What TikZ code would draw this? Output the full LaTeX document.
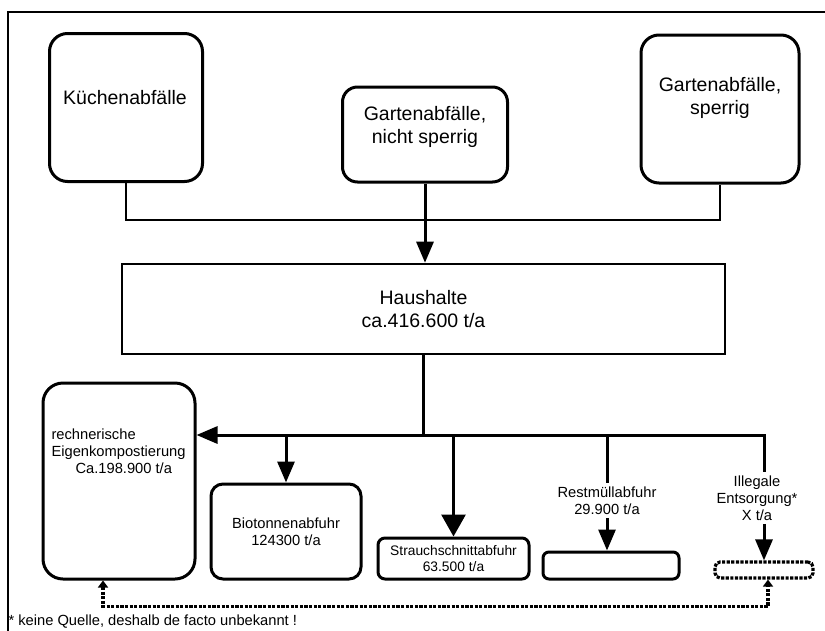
\documentclass[tikz,border=0pt]{standalone}
\usepackage{fontspec}
\setmainfont{Liberation Sans}
\usetikzlibrary{arrows.meta}

\begin{document}
\begin{tikzpicture}[x=1pt, y=-1pt,
    box/.style={draw, line width=3pt, rounded corners=#1, inner sep=0pt},
    flatbox/.style={draw, line width=2.6pt, inner sep=0pt},
    dotbox/.style={line width=3.2pt, dash pattern=on 3.2pt off 1.4pt},
    bigtext/.style={font=\fontsize{19.5}{23}\selectfont, align=center},
    smalltext/.style={font=\fontsize{14.7}{17}\selectfont, align=center},
    link/.style={line width=2pt},
    flow/.style={line width=3pt, -{Triangle[length=21pt,width=17pt]}}]
    \useasboundingbox (0,0) rectangle (825,630);
    \draw[line width=1.8pt] (840,12) -- (8,12) -- (8,640);
    % sources
    \node[box=18pt, minimum width=153pt, minimum height=148pt] (kueche) at (126,107.5) {};
    \node[bigtext] (kuechetxt) at (125,98) {Küchenabfälle};
    \node[box=15pt, minimum width=165pt, minimum height=95pt] (nicht) at (425,134.5) {};
    \node[bigtext] (nichttxt) at (425,126.5) {Gartenabfälle,\\nicht sperrig};
    \node[box=18pt, minimum width=158pt, minimum height=148pt] (sperrig) at (720,109) {};
    \node[bigtext] (sperrigtxt) at (720,98) {Gartenabfälle,\\sperrig};
    \node[flatbox, bigtext, minimum width=603pt, minimum height=90pt] (haus) at (423.5,309) {Haushalte\\ca.416.600 t/a};
    % destinations
    \node[box=20pt, minimum width=152pt, minimum height=196pt] (eigen) at (119,481) {};
    \node[smalltext, align=left, anchor=west] (eigentxt) at (48,451) {rechnerische\\Eigenkompostierung\\\hspace*{24pt}Ca.198.900 t/a};
    \node[box=12pt, smalltext, minimum width=150pt, minimum height=95pt] (bio) at (286,531.5) {Biotonnenabfuhr\\124300 t/a};
    \node[box=7pt, font=\fontsize{13.8}{16}\selectfont, align=center, minimum width=151pt, minimum height=41pt] (strauch) at (453.5,558.5) {Strauchschnittabfuhr\\63.500 t/a};
    \node[box=6pt, minimum width=136pt, minimum height=27pt] (rest) at (611,565.5) {};
    \node[smalltext] (resttxt) at (607,500.5) {Restmüllabfuhr\\29.900 t/a};
    \node[draw, dotbox, rounded corners=5pt, minimum width=98pt, minimum height=16pt, inner sep=0pt] (illegal) at (764,570) {};
    \node[smalltext] (illtxt) at (757,498) {Illegale\\Entsorgung*\\X t/a};
    \node[smalltext, anchor=west] (footnote) at (5,622) {* keine Quelle, deshalb de facto unbekannt !};
    \coordinate (join) at (423,220);
    \coordinate (split) at (423,435);
    % connectors
    \draw[link] (kueche.south) |- (join) -| (sperrig.south);
    \draw[flow] (nicht.south) -- (nicht.south |- haus.north);
    \draw[flow] (haus.south) |- (split -| eigen.east);
    \draw[line width=3pt] (split) -| (illtxt.north -| illegal.north);
    \draw[flow] (split -| bio.north) -- (bio.north);
    \draw[flow, -{Triangle[length=22pt,width=24pt]}] (split -| strauch.north) -- (strauch.north);
    \draw[line width=3pt] (split -| resttxt.north) -- (resttxt.north);
    \draw[flow] (resttxt.south) -- (resttxt.south |- rest.north);
    \draw[flow] (illtxt.south -| illegal.north) -- (illegal.north);
    \draw[dotbox, {Triangle[length=7pt,width=10pt]}-{Triangle[length=7pt,width=10pt]}] ([xshift=-16pt]eigen.south) -- ++(0,26) -| ([xshift=4pt]illegal.south);
\end{tikzpicture}
\end{document}
